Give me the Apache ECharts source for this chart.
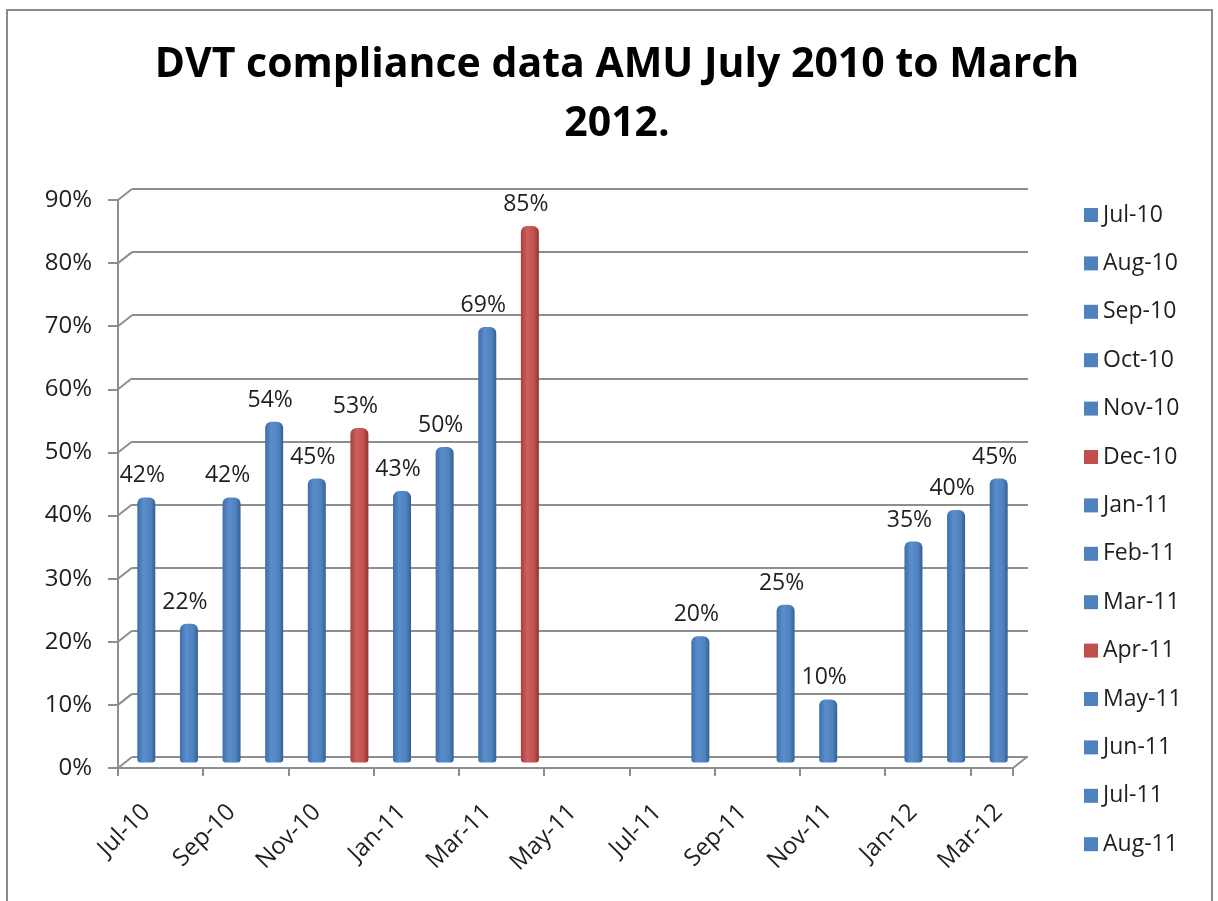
<!DOCTYPE html>
<html>
<head>
<meta charset="utf-8">
<script src="https://cdn.jsdelivr.net/npm/echarts@6/dist/echarts.min.js"></script>
<style>
  html, body { margin: 0; padding: 0; background: #ffffff; }
  #chart { width: 1218px; height: 901px; }
</style>
</head>
<body>
<div id="chart"></div>
<script>
// ---- data ----
var months = ['Jul-10','Aug-10','Sep-10','Oct-10','Nov-10','Dec-10','Jan-11','Feb-11','Mar-11','Apr-11','May-11','Jun-11','Jul-11','Aug-11','Sep-11','Oct-11','Nov-11','Dec-11','Jan-12','Feb-12','Mar-12'];
var compliance = [42, 22, 42, 54, 45, 53, 43, 50, 69, 85, null, null, null, 20, null, 25, 10, null, 35, 40, 45];
var highlightedMonths = ['Dec-10', 'Apr-11'];
var legendMonths = ['Jul-10','Aug-10','Sep-10','Oct-10','Nov-10','Dec-10','Jan-11','Feb-11','Mar-11','Apr-11','May-11','Jun-11','Jul-11','Aug-11'];
var yTicks = [0, 10, 20, 30, 40, 50, 60, 70, 80, 90];

// ---- style ----
var BLUE = '#4F81BD', RED = '#C0504D', GRID = '#8E8E8E', TEXT = '#1F1F1F';
var FONT = 'Open Sans';
var DX = 14, DY = -11;

function barGradient(isRed) {
  var c = isRed ? ['#A9403D', '#CD5F5C', '#C0504D', '#8E3431'] : ['#3F6EAA', '#5A8DCC', '#4F81BD', '#345F94'];
  return new echarts.graphic.LinearGradient(0, 0, 1, 0, [
    { offset: 0, color: c[0] }, { offset: 0.35, color: c[1] },
    { offset: 0.75, color: c[2] }, { offset: 1, color: c[3] }
  ]);
}

var barData = months.map(function (m, i) {
  var v = compliance[i];
  if (v === null) return '-';
  var red = highlightedMonths.indexOf(m) >= 0;
  return { value: v, itemStyle: { color: barGradient(red) } };
});

var legendSeries = legendMonths.map(function (m) {
  var col = highlightedMonths.indexOf(m) >= 0 ? RED : BLUE;
  return { name: m, type: 'line', xAxisIndex: 0, yAxisIndex: 0, data: [],
           itemStyle: { color: col }, lineStyle: { color: col } };
});

var chart = echarts.init(document.getElementById('chart'), null, { renderer: 'canvas' });

var option = {
  backgroundColor: '#ffffff',
  animation: false,
  title: {
    text: 'DVT compliance data AMU July 2010 to March\n2012.',
    left: 612, top: 31, textAlign: 'center',
    textStyle: { fontFamily: FONT, fontWeight: 'bold', fontSize: 41, lineHeight: 59, color: '#000', align: 'center' }
  },
  legend: {
    orient: 'vertical', left: 1084, top: 203, padding: 0,
    data: legendMonths, icon: 'rect', itemWidth: 14, itemHeight: 14, itemGap: 24.4,
    textStyle: { fontFamily: FONT, fontSize: 23, lineHeight: 24, color: TEXT },
    selectedMode: false
  },
  graphic: [{
    type: 'rect', silent: true, z: -10,
    shape: { x: 7, y: 10, width: 1205, height: 900 },
    style: { fill: 'none', stroke: '#8A8A8A', lineWidth: 2 }
  }],
  grid: [
    { left: 118, top: 200, width: 895, height: 568 },  // front
    { left: 132, top: 189, width: 896, height: 568 },  // back wall
    { left: 125, top: 194.5, width: 895, height: 568 } // bars (mid depth)
  ],
  xAxis: [
    { gridIndex: 0, type: 'category', data: months, boundaryGap: true,
      axisLine: { lineStyle: { color: GRID, width: 2 } },
      axisTick: { show: true, interval: 1, length: 8, lineStyle: { color: GRID, width: 2 } },
      axisLabel: { show: false } },
    { gridIndex: 1, type: 'category', data: months, show: false },
    { gridIndex: 2, type: 'category', data: months, boundaryGap: true,
      axisLine: { show: false }, axisTick: { show: false },
      axisLabel: { interval: 1, rotate: 45, margin: 46, fontFamily: FONT, fontSize: 24, color: TEXT } }
  ],
  yAxis: [
    { gridIndex: 0, type: 'value', min: 0, max: 90, interval: 10,
      axisLine: { show: true, lineStyle: { color: GRID, width: 2 } },
      axisTick: { show: true, length: 10, lineStyle: { color: GRID, width: 2 } },
      axisLabel: { formatter: '{value}%', margin: 26, fontFamily: FONT, fontSize: 24, color: TEXT },
      splitLine: { show: false } },
    { gridIndex: 1, type: 'value', min: 0, max: 90, interval: 10,
      axisLine: { show: false }, axisTick: { show: false }, axisLabel: { show: false },
      splitLine: { show: true, lineStyle: { color: GRID, width: 2 } } },
    { gridIndex: 2, type: 'value', min: 0, max: 90, interval: 10, show: false }
  ],
  series: [
    {
      name: 'Compliance', type: 'bar', xAxisIndex: 2, yAxisIndex: 2,
      barWidth: 18, data: barData,
      itemStyle: { borderRadius: [6, 6, 3, 3] },
      label: { show: true, position: 'top', distance: 10, offset: [-4, 0],
               formatter: '{c}%', fontFamily: FONT, fontSize: 23, color: TEXT },
      z: 5
    },
    {
      name: 'depth', type: 'custom', xAxisIndex: 0, yAxisIndex: 0, clip: false, silent: true,
      data: yTicks.map(function (t) { return [0, t]; }),
      renderItem: function (params, api) {
        var cs = params.coordSys;
        var y = api.coord([0, api.value(1)])[1];
        var children = [{
          type: 'line', shape: { x1: cs.x, y1: y, x2: cs.x + DX, y2: y + DY },
          style: { stroke: GRID, lineWidth: 2 }
        }];
        if (api.value(1) === 0) {
          children.push({
            type: 'line', shape: { x1: cs.x + cs.width, y1: y, x2: cs.x + cs.width + DX, y2: y + DY },
            style: { stroke: GRID, lineWidth: 2 }
          });
        }
        return { type: 'group', children: children };
      },
      z: 3
    }
  ].concat(legendSeries)
};

chart.setOption(option);
</script>
</body>
</html>
